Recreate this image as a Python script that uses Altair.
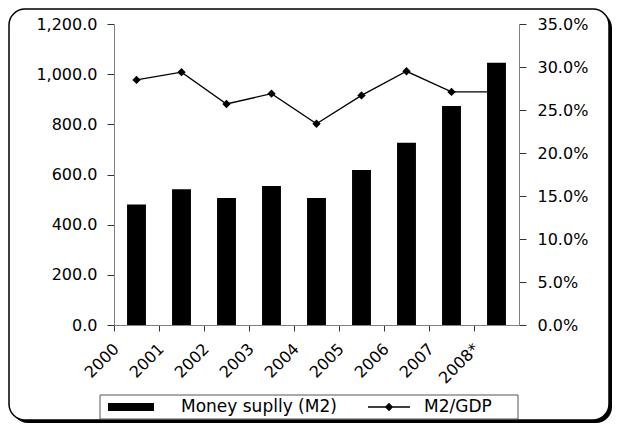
import altair as alt
import pandas as pd

years = ["2000", "2001", "2002", "2003", "2004", "2005", "2006", "2007", "2008*"]
money_supply = [480, 541, 506, 554, 506, 618, 727, 873, 1046]
m2_gdp = [0.285, 0.294, 0.257, 0.269, 0.234, 0.267, 0.295, 0.271, 0.271]
bar_label = "Money suplly (M2)"
line_label = "M2/GDP"
left_ticks = [0, 200, 400, 600, 800, 1000, 1200]
right_ticks = [0, 0.05, 0.10, 0.15, 0.20, 0.25, 0.30, 0.35]

df = pd.DataFrame({
    "year": years,
    "m2": money_supply,
    "ratio": m2_gdp,
    "s1": [bar_label] * len(years),
    "s2": [line_label] * len(years),
})

FONT = "DejaVu Sans"
FS = 16
one = alt.Data(values=[{}])

shadow = alt.Chart(one).mark_rect(color="black", cornerRadius=16).encode(
    x=alt.value(-102), x2=alt.value(498), y=alt.value(-12), y2=alt.value(399))
frame = alt.Chart(one).mark_rect(fill="white", stroke="black", strokeWidth=1.5, cornerRadius=16).encode(
    x=alt.value(-105), x2=alt.value(495), y=alt.value(-15), y2=alt.value(396))
legend_box = alt.Chart(one).mark_rect(fill="white", stroke="#555555", strokeWidth=1).encode(
    x=alt.value(-14), x2=alt.value(404), y=alt.value(371), y2=alt.value(395))

x_enc = alt.X(
    "year:N", sort=years,
    scale=alt.Scale(paddingInner=0, paddingOuter=0),
    axis=alt.Axis(title=None, bandPosition=0, labelAngle=315, labelAlign="right",
                  labelBaseline="middle", labelPadding=15, labelOffset=-20, tickSize=6,
                  tickColor="#333333", domainColor="#808080", labelFont=FONT,
                  labelFontSize=FS, labelColor="black", zindex=1),
)

bars = alt.Chart(df).mark_bar(width=alt.RelativeBandSize(band=0.42)).encode(
    x=x_enc,
    y=alt.Y("m2:Q", scale=alt.Scale(domain=[0, 1200], nice=False),
            axis=alt.Axis(orient="left", values=left_ticks, format=",.1f", title=None,
                          tickSize=7, tickColor="#333333", domainColor="#808080",
                          labelPadding=10, labelFont=FONT, labelFontSize=FS, labelColor="black",
                          grid=False, zindex=1)),
    fill=alt.Fill("s1:N", scale=alt.Scale(range=["black"]),
                  legend=alt.Legend(title=None, orient="none", legendX=-6, legendY=360,
                                    symbolType="M-1,-0.17H1V0.17H-1Z", symbolSize=2116,
                                    symbolStrokeWidth=0, labelOffset=27, labelFont=FONT,
                                    labelFontSize=17, labelColor="black")),
)

y2_enc = alt.Y("ratio:Q", scale=alt.Scale(domain=[0, 0.35], nice=False),
               axis=alt.Axis(orient="right", values=right_ticks, format=".1%", title=None,
                             tickSize=7, tickColor="#333333", domainColor="#808080",
                             labelPadding=11, labelFont=FONT, labelFontSize=FS, labelColor="black",
                             grid=False, zindex=1))

line = alt.Chart(df).mark_line(color="black", strokeWidth=1.3).encode(x=x_enc, y=y2_enc)
points = alt.Chart(df).mark_point(shape="diamond", filled=True, size=70, opacity=1).encode(
    x=x_enc, y=y2_enc,
    fill=alt.Fill("s2:N", scale=alt.Scale(range=["black"]),
                  legend=alt.Legend(title=None, orient="none", legendX=254, legendY=362,
                                    symbolType="M-1,-0.03H1V0.03H-1Z M-0.2,0L0,-0.2L0.2,0L0,0.2Z",
                                    symbolSize=1764, symbolStrokeWidth=0, symbolOpacity=1,
                                    labelOffset=14, labelFont=FONT, labelFontSize=17,
                                    labelColor="black")),
)

ratio_layer = alt.layer(line, points)

chart = alt.layer(shadow, frame, legend_box, ratio_layer, bars).resolve_scale(
    y="independent", fill="independent"
).properties(
    width=405, height=301,
    padding={"left": 106, "top": 16, "right": 94, "bottom": 98},
    autosize=alt.AutoSizeParams(type="none"),
).configure_view(stroke="transparent")

chart.save("out.html", embed_options={"renderer": "svg", "actions": False})
